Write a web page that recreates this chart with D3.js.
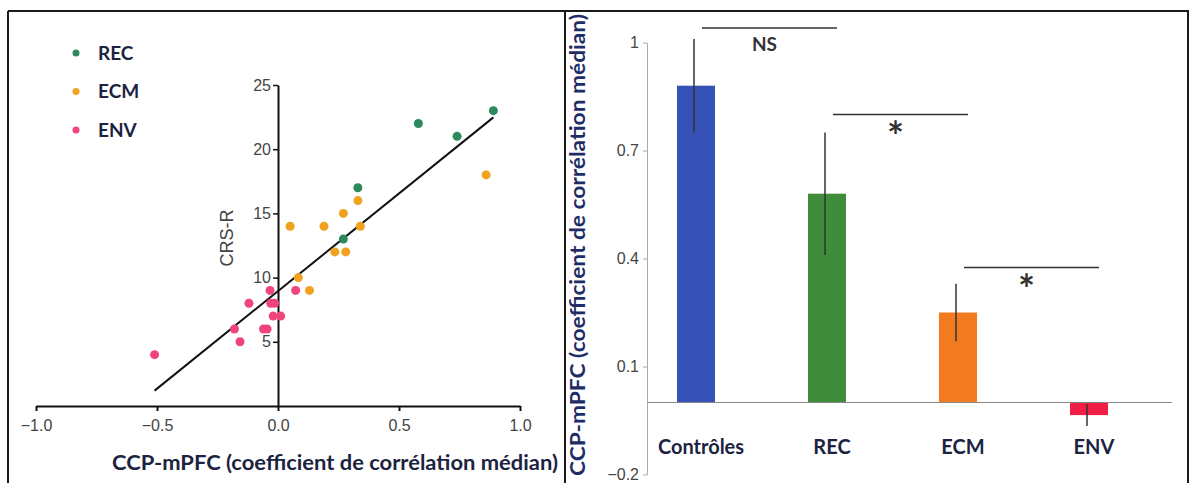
<!DOCTYPE html>
<html>
<head>
<meta charset="utf-8">
<script src="https://cdn.jsdelivr.net/npm/d3@7"></script>
<style>
  body { margin: 0; background: #fff; }
  svg { display: block; }
</style>
</head>
<body>
<script>
// scatter: CRS-R vs CCP-mPFC, per group
const recX = [0.58, 0.74, 0.89, 0.33, 0.27];
const recY = [22, 21, 23, 17, 13];
const ecmX = [0.86, 0.33, 0.27, 0.19, 0.05, 0.34, 0.235, 0.28, 0.084, 0.13];
const ecmY = [18, 16, 15, 14, 14, 14, 12, 12, 10, 9];
const envX = [-0.51, -0.18, -0.157, -0.12, -0.06, -0.045, -0.033, -0.03, -0.014, -0.02, 0.011, 0.073];
const envY = [4, 6, 5, 8, 6, 6, 9, 8, 8, 7, 7, 9];
const groups = ["REC", "ECM", "ENV"];
const groupColors = ["#2c8a5c", "#f0a21e", "#f0457a"];

// regression line
const fitRange = [-0.51, 0.89];
const fitSlope = 15.2;
const fitIntercept = 8.95;

const scatterXTicks = [-1, -0.5, 0, 0.5, 1];
const scatterYTicks = [5, 10, 15, 20, 25];

// bars: mean correlation per group
const categories = ["Contrôles", "REC", "ECM", "ENV"];
const means = [0.88, 0.58, 0.25, -0.035];
const errors = [0.13, 0.17, 0.08, 0.03];
const barColors = ["#3651b6", "#3f8d3a", "#f27b1f", "#ef1f45"];
const barYTicks = [-0.2, 0.1, 0.4, 0.7, 1];

// significance brackets
const sigFrom = ["Contrôles", "REC", "ECM"];
const sigTo = ["REC", "ECM", "ENV"];
const sigLevel = [1.04, 0.80, 0.375];
const sigLabel = ["NS", "*", "*"];

const W = 1194, H = 483;
const svg = d3.select("body").append("svg").attr("width", W).attr("height", H);

const boldFont = "Lato, 'Open Sans', sans-serif";
const numFont = "'Liberation Sans', Arial, sans-serif";
const title = "CCP-mPFC (coefficient de corrélation médian)";

// frames
const frame = svg.append("g").attr("stroke", "#1a1a1a").attr("stroke-width", 2);
frame.append("line").attr("x1", 8).attr("x2", 1189).attr("y1", 11).attr("y2", 11);
frame.append("line").attr("x1", 8).attr("x2", 8).attr("y1", 11).attr("y2", H);
frame.append("line").attr("x1", 565).attr("x2", 565).attr("y1", 11).attr("y2", H);
frame.append("line").attr("x1", 1188).attr("x2", 1188).attr("y1", 11).attr("y2", H);

// ---------- LEFT: scatter ----------
const x = d3.scaleLinear([-1, 1], [36, 520]);
const y = d3.scaleLinear([0, 25], [406, 85]);

const xAxis = svg.append("g")
  .attr("transform", `translate(0,${y(0)})`)
  .call(d3.axisBottom(x).tickValues(scatterXTicks).tickFormat(d3.format(".1f"))
    .tickSize(5).tickSizeOuter(0).tickPadding(9));
xAxis.select(".domain").attr("stroke", "#111").attr("stroke-width", 2);
xAxis.selectAll(".tick line").attr("stroke", "#111").attr("stroke-width", 2);
xAxis.selectAll("text").attr("font-family", numFont).attr("font-size", 16).attr("fill", "#444");

const yAxis = svg.append("g")
  .attr("transform", `translate(${x(0)},0)`)
  .call(d3.axisLeft(y).tickValues(scatterYTicks).tickSize(5).tickSizeOuter(0).tickPadding(2));
yAxis.select(".domain").attr("stroke", "#111").attr("stroke-width", 2);
yAxis.selectAll(".tick line").attr("stroke", "#111").attr("stroke-width", 1.5);
yAxis.selectAll("text").attr("font-family", numFont).attr("font-size", 16).attr("fill", "#444");

svg.append("text")
  .attr("transform", "translate(233,238) rotate(-90)")
  .attr("text-anchor", "middle")
  .attr("font-family", numFont).attr("font-size", 18).attr("fill", "#444")
  .text("CRS-R");

svg.append("text")
  .attr("x", 335).attr("y", 470)
  .attr("text-anchor", "middle")
  .attr("font-family", boldFont).attr("font-weight", "bold").attr("font-size", 21)
  .attr("textLength", 446).attr("lengthAdjust", "spacingAndGlyphs")
  .attr("fill", "#1c2340")
  .text(title);

// regression line
svg.append("line")
  .attr("x1", x(fitRange[0])).attr("y1", y(fitIntercept + fitSlope * fitRange[0]))
  .attr("x2", x(fitRange[1])).attr("y2", y(fitIntercept + fitSlope * fitRange[1]))
  .attr("stroke", "#111").attr("stroke-width", 2);

const pts = [];
[[recX, recY], [ecmX, ecmY], [envX, envY]].forEach(([xs, ys], g) => {
  xs.forEach((v, i) => pts.push({ x: v, y: ys[i], g }));
});
svg.append("g").selectAll("circle").data(pts).join("circle")
  .attr("cx", d => x(d.x)).attr("cy", d => y(d.y)).attr("r", 4.5)
  .attr("fill", d => groupColors[d.g]);

// legend
const legend = svg.append("g").selectAll("g").data(groups).join("g")
  .attr("transform", (d, i) => `translate(76,${53 + i * 38.5})`);
legend.append("circle").attr("r", 3.5).attr("fill", (d, i) => groupColors[i]);
legend.append("text").attr("x", 22).attr("dy", "0.36em")
  .attr("font-family", boldFont).attr("font-weight", "bold").attr("font-size", 19)
  .attr("fill", "#1c2340").text(d => d);

// ---------- RIGHT: bars ----------
const bx = d3.scalePoint(categories, [630.5, 1154.5]).padding(0.5);
const by = d3.scaleLinear([-0.2, 1], [474.5, 42.5]);
const barW = 38;

const bAxis = svg.append("g")
  .attr("transform", "translate(647,0)")
  .call(d3.axisLeft(by).tickValues(barYTicks)
    .tickFormat(d => d === 1 ? "1" : d3.format(".1f")(d))
    .tickSize(4).tickSizeOuter(0).tickPadding(4));
bAxis.select(".domain").attr("stroke", "#aaa");
bAxis.selectAll(".tick line").attr("stroke", "#aaa");
bAxis.selectAll("text").attr("font-family", numFont).attr("font-size", 16).attr("fill", "#444");

svg.append("text")
  .attr("transform", "translate(585,245) rotate(-90)")
  .attr("text-anchor", "middle")
  .attr("font-family", boldFont).attr("font-weight", "bold").attr("font-size", 21)
  .attr("textLength", 462).attr("lengthAdjust", "spacingAndGlyphs")
  .attr("fill", "#1f2d66")
  .text(title);

svg.append("g").selectAll("rect").data(categories).join("rect")
  .attr("x", d => bx(d) - barW / 2)
  .attr("y", (d, i) => by(Math.max(0, means[i])))
  .attr("width", barW)
  .attr("height", (d, i) => Math.abs(by(means[i]) - by(0)))
  .attr("fill", (d, i) => barColors[i]);

svg.append("line")
  .attr("x1", 647).attr("x2", 1172).attr("y1", by(0)).attr("y2", by(0))
  .attr("stroke", "#888").attr("stroke-width", 1.2);

svg.append("g").selectAll("line").data(categories).join("line")
  .attr("x1", d => bx(d) - 2).attr("x2", d => bx(d) - 2)
  .attr("y1", (d, i) => by(means[i] + errors[i]))
  .attr("y2", (d, i) => by(means[i] - errors[i]))
  .attr("stroke", "#333").attr("stroke-width", 1.5);

svg.append("g").selectAll("text").data(categories).join("text")
  .attr("x", d => bx(d) + 5).attr("y", 454)
  .attr("text-anchor", "middle")
  .attr("font-family", boldFont).attr("font-weight", "bold").attr("font-size", 20)
  .attr("fill", "#1c2340").text(d => d);

// brackets
sigLabel.forEach((lab, i) => {
  const x1 = bx(sigFrom[i]) + 6, x2 = bx(sigTo[i]) + 10;
  const yy = by(sigLevel[i]);
  svg.append("line").attr("x1", x1).attr("x2", x2).attr("y1", yy).attr("y2", yy)
    .attr("stroke", "#333").attr("stroke-width", 1.5);
  svg.append("text")
    .attr("x", (x1 + x2) / 2 - 5)
    .attr("y", lab === "NS" ? yy + 23 : yy + 36)
    .attr("text-anchor", "middle")
    .attr("font-family", boldFont).attr("font-weight", "bold")
    .attr("font-size", lab === "NS" ? 19 : 40)
    .attr("fill", "#333").text(lab);
});
</script>
</body>
</html>
